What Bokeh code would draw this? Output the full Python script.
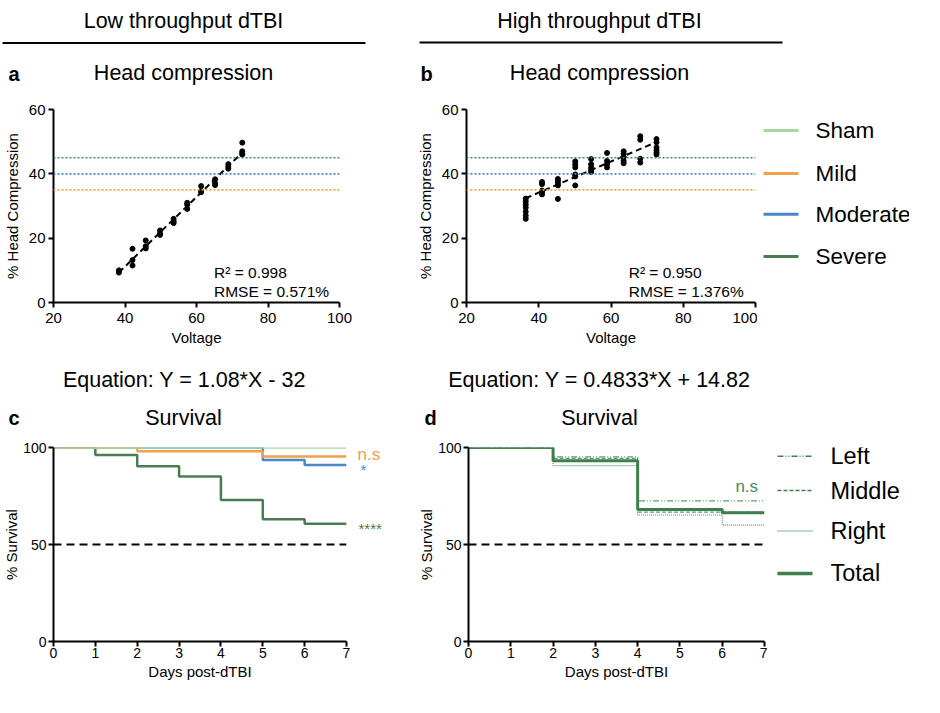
from bokeh.plotting import figure
from bokeh.layouts import column, row
from bokeh.models import Range1d, Label, FixedTicker, Span
from bokeh.embed import file_html
from bokeh.resources import INLINE

FONT = "Liberation Sans"

# ---------------- data ----------------
# panel a (low throughput): voltage / % head compression
volt_a = [38.3, 38.3,
          42.1, 42.1, 42.1,
          45.8, 45.8, 45.8,
          49.8, 49.8, 49.8,
          53.6, 53.6, 53.6,
          57.4, 57.4, 57.4,
          61.3, 61.3, 61.3,
          65.2, 65.2, 65.2,
          68.9, 68.9, 68.9,
          72.8, 72.8, 72.8, 72.8]
comp_a = [9.3, 10.0,
          16.7, 13.2, 11.5,
          19.3, 17.5, 16.8,
          22.4, 21.5, 21.0,
          26.0, 25.2, 24.7,
          31.0, 30.4, 29.1,
          36.2, 34.7, 34.3,
          38.3, 37.1, 36.5,
          43.0, 42.2, 41.6,
          49.7, 47.0, 46.4, 46.0]
fit_a_slope, fit_a_icpt = 1.08, -32.0
fit_a_range = [38.3, 72.8]

# panel b (high throughput)
volt_b = [36.4] * 7 + [40.9] * 5 + [45.3] * 5 + [50.1] * 6 + [54.5] * 5 + \
         [58.9] * 4 + [63.5] * 5 + [68.1] * 4 + [72.6] * 6
comp_b = [32.3, 31.5, 30.5, 29.5, 28.2, 27.0, 26.0,
          37.5, 36.8, 34.8, 34.2, 33.6,
          38.4, 37.8, 37.0, 36.4, 32.2,
          43.9, 43.0, 42.0, 39.8, 39.2, 36.4,
          44.6, 43.0, 42.0, 41.3, 40.6,
          46.5, 44.0, 43.0, 42.0,
          47.0, 46.2, 45.2, 44.0, 43.3,
          51.7, 50.6, 44.7, 43.5,
          50.8, 49.8, 48.2, 47.3, 46.6, 46.0]
fit_b_slope, fit_b_icpt = 0.4833, 14.82
fit_b_range = [36.4, 72.6]

# severity thresholds (% head compression)
thr_names = ["Mild", "Moderate", "Severe"]
thr_values = [35, 40, 45]

# survival study window and 50 % reference
study_days = [0, 7]
half_line = [50, 50]

# panel c survival
groups_c = ["Sham", "Mild", "Moderate", "Severe"]
days_sham, surv_sham = [0, 7], [100, 100]
days_mild, surv_mild = [0, 2, 5, 7], [100, 98.1, 95.3, 95.3]
days_mod, surv_mod = [0, 5, 6, 7], [100, 93.6, 91.0, 91.0]
days_sev, surv_sev = [0, 1, 2, 3, 4, 5, 6, 7], [100, 96.1, 90.3, 85.1, 72.9, 63.0, 60.7, 60.7]
sig_c = ["n.s", "*", "****"]

# panel d survival
groups_d = ["Left", "Middle", "Right", "Total"]
days_left, surv_left = [0, 2, 4, 7], [100, 95.2, 72.5, 72.5]
days_mid, surv_mid = [0, 2, 4, 7], [100, 94.4, 66.7, 66.7]
days_right, surv_right = [0, 2, 4, 6, 7], [100, 90.7, 65.2, 60.0, 60.0]
days_tot, surv_tot = [0, 2, 4, 6, 7], [100, 93.2, 68.1, 66.4, 66.4]

# ---------------- styles ----------------
C_SHAM = "#a9d79f"
C_MILD = "#f0a14e"
C_MOD = "#4a87c9"
C_SEV = "#4a7b53"
C_DOT_G = "#3e8b4c"
C_D = "#3f7f4e"
C_D_THIN = "#5f9c6c"
thr_colors = [C_MILD, C_MOD, C_DOT_G]
colors_c = [C_SHAM, C_MILD, C_MOD, C_SEV]
widths_c = [3, 3, 3, 3]
dashes_c = ["solid", "solid", "solid", "solid"]
colors_d = [C_D, C_D, C_D_THIN, C_D]
widths_d = [1.5, 1.5, 1.5, 3.5]
dashes_d = ["6 2 1 2 1 2", "4 2", "1 1", "solid"]

TITLE_FS = "21.5px"
TOTAL_W = 909


def blank(width, height, xr, yr, top=0, bottom=0, left=0, right=0):
    p = figure(width=width, height=height, x_range=Range1d(*xr), y_range=Range1d(*yr),
               x_axis_location=None, y_axis_location=None, toolbar_location=None,
               output_backend="svg", title=None, min_border_top=top, min_border_bottom=bottom,
               min_border_left=left, min_border_right=right)
    p.grid.visible = False
    p.outline_line_color = None
    return p


def axis_fig(width, height, xr, yr, left, right, top, bottom):
    return figure(width=width, height=height, x_range=Range1d(*xr), y_range=Range1d(*yr),
                  toolbar_location=None, output_backend="svg", title=None,
                  min_border_left=left, min_border_right=right,
                  min_border_top=top, min_border_bottom=bottom)


def lab(p, x, y, text, size, align="left", baseline="alphabetic", color="black", style="normal"):
    p.add_layout(Label(x=x, y=y, text=text, text_font=FONT, text_font_size=size,
                       text_align=align, text_baseline=baseline, text_color=color,
                       text_font_style=style))


def style_axes(p, xticks, yticks, xlabel, ylabel, tick_fs, xl_stand, xa_stand, yl_stand, ya_stand):
    p.xaxis.ticker = FixedTicker(ticks=xticks)
    p.yaxis.ticker = FixedTicker(ticks=yticks)
    p.xaxis.axis_label = xlabel
    p.yaxis.axis_label = ylabel
    for ax in p.axis:
        ax.axis_line_width = 2
        ax.axis_line_color = "black"
        ax.major_tick_line_width = 2
        ax.major_tick_line_color = "black"
        ax.major_tick_out = 5
        ax.major_tick_in = 0
        ax.minor_tick_line_color = None
        ax.major_label_text_font = FONT
        ax.major_label_text_font_size = tick_fs
        ax.major_label_text_color = "black"
        ax.axis_label_text_font = FONT
        ax.axis_label_text_font_size = "15px"
        ax.axis_label_text_font_style = "normal"
        ax.axis_label_text_color = "black"
    p.xaxis.major_label_standoff = xl_stand
    p.xaxis.axis_label_standoff = xa_stand
    p.yaxis.major_label_standoff = yl_stand
    p.yaxis.axis_label_standoff = ya_stand
    p.grid.visible = False
    p.outline_line_color = None


def key_fig(width, height, top, bottom, yr, names, colors, widths, dashes, rows_v, x0, x1, xt, fs):
    """Legend key sharing the vertical scale of the neighbouring panel (frames are row-aligned)."""
    p = blank(width, height, (0, width), yr, top=top, bottom=bottom)
    for name, c, w, d, v in zip(names, colors, widths, dashes, rows_v):
        p.line([x0, x1], [v, v], line_color=c, line_width=w, line_dash=d)
        lab(p, xt, v, name, fs, baseline="middle")
    return p


# ---------------- header (page rows 8..100) ----------------
H1_BOT = 100
h1 = blank(TOTAL_W, 92, (8, 8 + TOTAL_W), (0, 92))


def y1(r):
    return H1_BOT - r


h1.segment(x0=[10, 427], y0=[y1(50.5), y1(50)], x1=[373, 790], y1=[y1(50.5), y1(50)],
           line_color="black", line_width=2)
lab(h1, 191, y1(28.5), "Low throughput dTBI", TITLE_FS, align="center")
lab(h1, 607, y1(28.5), "High throughput dTBI", TITLE_FS, align="center")
lab(h1, 16, y1(81), "a", "20px", style="bold")
lab(h1, 191, y1(80.5), "Head compression", TITLE_FS, align="center")
lab(h1, 428, y1(81), "b", "20px", style="bold")
lab(h1, 607, y1(80.5), "Head compression", TITLE_FS, align="center")


# ---------------- scatter panels (page rows 100..365) ----------------
def scatter_panel(width, mb_left, mb_right, volts, comps, slope, icpt, frange, r2, rmse):
    p = axis_fig(width, 265, (20, 100), (0, 60), mb_left, mb_right, 17, 55)
    style_axes(p, [20, 40, 60, 80, 100], [0, 20, 40, 60], "Voltage", "% Head Compression",
               "15px", 5, 3, 3, 5)
    for v, c in zip(thr_values, thr_colors):
        p.add_layout(Span(location=v, dimension="width", line_color=c, line_width=1.6,
                          line_dash="2 2"))
    p.scatter(volts, comps, size=5, color="black")
    fy = [slope * x + icpt for x in frange]
    p.line(frange, fy, line_color="black", line_width=2, line_dash="6 4")
    lab(p, 64.9, 9.3, "R\u00b2 = " + r2, "15.5px")
    lab(p, 64.9, 3.4, "RMSE = " + rmse, "15.5px")
    return p


pa = scatter_panel(412, 49, 73, volt_a, comp_a, fit_a_slope, fit_a_icpt, fit_a_range, "0.998", "0.571%")
pb = scatter_panel(345, 54, 2, volt_b, comp_b, fit_b_slope, fit_b_icpt, fit_b_range, "0.950", "1.376%")

# key for severity groups, rows placed on the % head compression scale of panel b
leg1 = key_fig(152, 265, 17, 55, (0, 60), groups_c, colors_c, widths_c, dashes_c,
               [53.5, 40.1, 27.4, 14.3], 6, 41, 58, "22.5px")

# ---------------- middle band (page rows 365..440) ----------------
h2 = blank(TOTAL_W, 75, (8, 8 + TOTAL_W), (0, 75))
lab(h2, 192, 53, "Equation: Y = %g*X - %g" % (fit_a_slope, -fit_a_icpt), TITLE_FS, align="center")
lab(h2, 607, 53, "Equation: Y = %g*X + %g" % (fit_b_slope, fit_b_icpt), TITLE_FS, align="center")
lab(h2, 16, 15, "c", "20px", style="bold")
lab(h2, 191, 15, "Survival", TITLE_FS, align="center")
lab(h2, 432, 15, "d", "20px", style="bold")
lab(h2, 607, 15, "Survival", TITLE_FS, align="center")

# ---------------- survival panels (page rows 440..690) ----------------
ROWD_H = 250
C_TOP, C_FRAME = 15, 195
C_BOT = ROWD_H - C_TOP - C_FRAME

pc = axis_fig(350, ROWD_H, (0, 7), (0, 100), 48, 4, C_TOP, C_BOT)
style_axes(pc, list(range(8)), [0, 50, 100], "Days post-dTBI", "% Survival", "14px", 1, 2, 2, 0)
pc.line(study_days, half_line, line_color="black", line_width=2, line_dash="8 5")
pc.step(days_sev, surv_sev, mode="after", line_color=C_SEV, line_width=2.5)
pc.step(days_mod, surv_mod, mode="after", line_color=C_MOD, line_width=2.5)
pc.step(days_mild, surv_mild, mode="after", line_color=C_MILD, line_width=2.5)
pc.step(days_sham, surv_sham, mode="after", line_color=C_SHAM, line_width=2.5)

# significance marks to the right of panel c (same % survival scale, row-aligned frame)
psig = blank(62, ROWD_H, (0, 62), (0, 100), top=C_TOP, bottom=C_BOT)
lab(psig, 7, 96.5, sig_c[0], "17px", baseline="middle", color=C_MILD)
lab(psig, 10, 88.5, sig_c[1], "15px", baseline="middle", color=C_MOD)
lab(psig, 8, 58.5, sig_c[2], "15px", baseline="middle", color=C_SEV)

pd_ = axis_fig(355, ROWD_H, (0, 7), (0, 100), 56, 3, C_TOP, C_BOT)
style_axes(pd_, list(range(8)), [0, 50, 100], "Days post-dTBI", "% Survival", "14px", 1, 2, 2, 0)
pd_.line(study_days, half_line, line_color="black", line_width=2, line_dash="8 5")
pd_.step(days_left, surv_left, mode="after", line_color=C_D_THIN, line_width=1.2,
         line_dash=dashes_d[0])
pd_.step(days_mid, surv_mid, mode="after", line_color=C_D_THIN, line_width=1.2, line_dash=dashes_d[1])
pd_.step(days_right, surv_right, mode="after", line_color=C_D_THIN, line_width=1.2,
         line_dash=dashes_d[2])
pd_.step(days_tot, surv_tot, mode="after", line_color=C_D, line_width=3)
lab(pd_, 6.58, 79.8, "n.s", "17px", align="center", baseline="middle", color="#4a8a5a")

# key for impact position, rows placed on the % survival scale of panel d
leg2 = key_fig(142, ROWD_H, C_TOP, C_BOT, (0, 100), groups_d, colors_d, widths_d, dashes_d,
               [95.5, 77.8, 56.9, 35.1], 10, 45, 63, "23.5px")

layout = column(h1, row(pa, pb, leg1), h2, row(pc, psig, pd_, leg2))

with open("out.html", "w") as f:
    f.write(file_html(layout, INLINE))
